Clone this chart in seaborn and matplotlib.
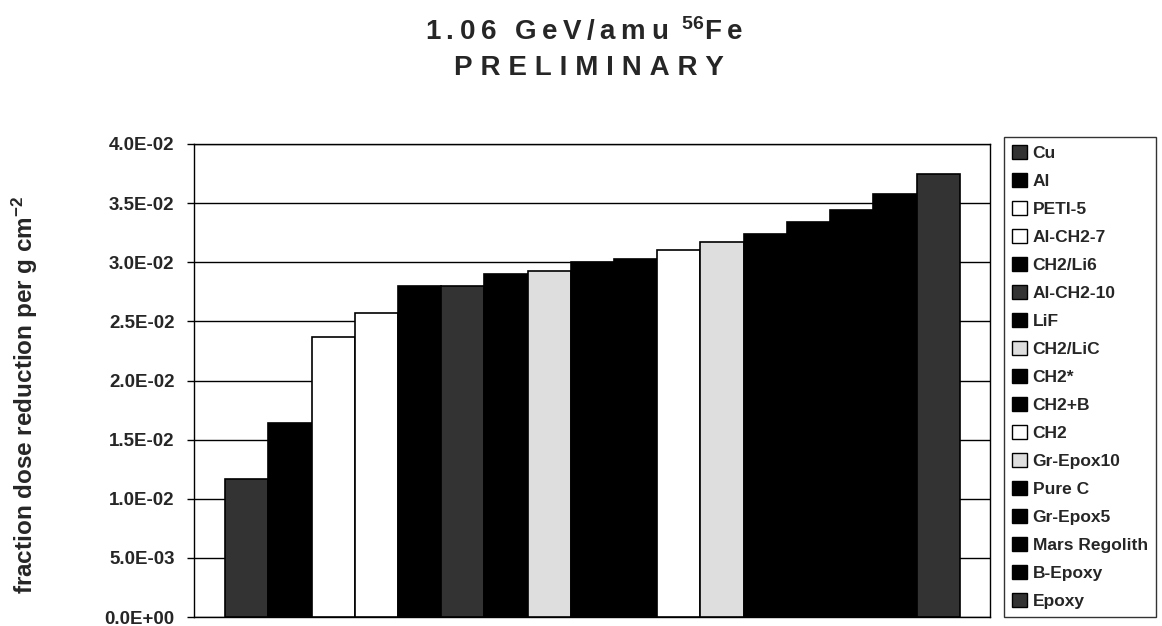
import matplotlib
matplotlib.use("Agg")
import matplotlib.pyplot as plt
import seaborn as sns
import pandas as pd
from matplotlib.patches import Patch
from matplotlib.ticker import FuncFormatter

materials = ["Cu", "Al", "PETI-5", "Al-CH2-7", "CH2/Li6", "Al-CH2-10", "LiF",
             "CH2/LiC", "CH2*", "CH2+B", "CH2", "Gr-Epox10", "Pure C",
             "Gr-Epox5", "Mars Regolith", "B-Epoxy", "Epoxy"]
values = [0.0117, 0.0164, 0.0237, 0.0257, 0.0280, 0.0280, 0.0290,
          0.0293, 0.0300, 0.0303, 0.0310, 0.0317, 0.0324,
          0.0334, 0.0344, 0.0358, 0.0375]
fills = ["#333333", "#000000", "#ffffff", "#ffffff", "#000000", "#333333", "#000000",
         "#dedede", "#000000", "#000000", "#ffffff", "#dedede", "#000000",
         "#000000", "#000000", "#000000", "#333333"]
yticks = [0.0, 0.005, 0.010, 0.015, 0.020, 0.025, 0.030, 0.035, 0.040]

sns.set_theme(style="white")
plt.rcParams["font.family"] = ["Liberation Sans", "DejaVu Sans"]
plt.rcParams["mathtext.fontset"] = "custom"
plt.rcParams["mathtext.rm"] = "Liberation Sans"
plt.rcParams["mathtext.bf"] = "Liberation Sans:bold"
plt.rcParams["mathtext.it"] = "Liberation Sans:italic"

TS = "\u2009"
HS = "\u200a"


def spaced(s, sep=TS):
    return sep.join(list(s))


df = pd.DataFrame({"material": materials, "value": values})
palette = dict(zip(materials, fills))

fig = plt.figure(figsize=(11.62, 6.26), dpi=100)
ax = fig.add_axes([194 / 1162, 1 - 617 / 626, (990 - 194) / 1162, (617 - 144) / 626])

sns.barplot(data=df, x="material", y="value", hue="material", palette=palette,
            order=materials, hue_order=materials, dodge=False, width=1.0,
            edgecolor="black", linewidth=1.2, legend=False, ax=ax, zorder=3)

ax.set_xlim(-0.5 - 0.72, len(materials) - 0.5 + 0.70)
ax.set_ylim(0, 0.040)
ax.set_yticks(yticks)
ax.yaxis.set_major_formatter(FuncFormatter(lambda v, p: f"{v:.1E}"))
ax.grid(axis="y", color="black", linewidth=1.0, zorder=0)
ax.set_axisbelow(True)
ax.set_xticks([])
ax.set_xlabel("")
ax.tick_params(axis="y", which="major", left=True, direction="out", length=5,
               width=1, color="black", labelsize=13.5, pad=9)
for lbl in ax.get_yticklabels():
    lbl.set_fontweight("bold")
for side, sp in ax.spines.items():
    sp.set_color("black")
    sp.set_linewidth(1.0)
    sp.set_visible(True)

ax.set_ylabel(r"fraction dose reduction per g cm$^{\mathbf{-2}}$", fontsize=17.5,
              fontweight="bold")
ax.yaxis.set_label_coords(-(194 - 40) / 796, 0.47)

fig.text(0.503, 0.950, spaced("1.06 GeV/amu ") + r"$^{\mathbf{56}}$" + spaced("Fe"),
         ha="center", va="center", fontsize=20, fontweight="bold")
fig.text(0.507, 0.892, spaced("PRELIM", TS + HS) + " " + spaced("INARY", TS + HS),
         ha="center", va="center", fontsize=20, fontweight="bold")

handles = [Patch(facecolor=c, edgecolor="black", linewidth=1.0, label=m)
           for m, c in zip(materials, fills)]
leg = fig.legend(handles=handles, loc="upper left",
                 bbox_to_anchor=(1004 / 1162, 1 - 137 / 626),
                 frameon=True, fancybox=False, fontsize=12.5,
                 handlelength=0.9, handleheight=0.9, handletextpad=0.3,
                 labelspacing=0.68, borderpad=0.45, borderaxespad=0.0)
leg.get_frame().set_edgecolor("black")
leg.get_frame().set_linewidth(1.0)
for t in leg.get_texts():
    t.set_fontweight("bold")

fig.savefig("out.png", dpi=100)
